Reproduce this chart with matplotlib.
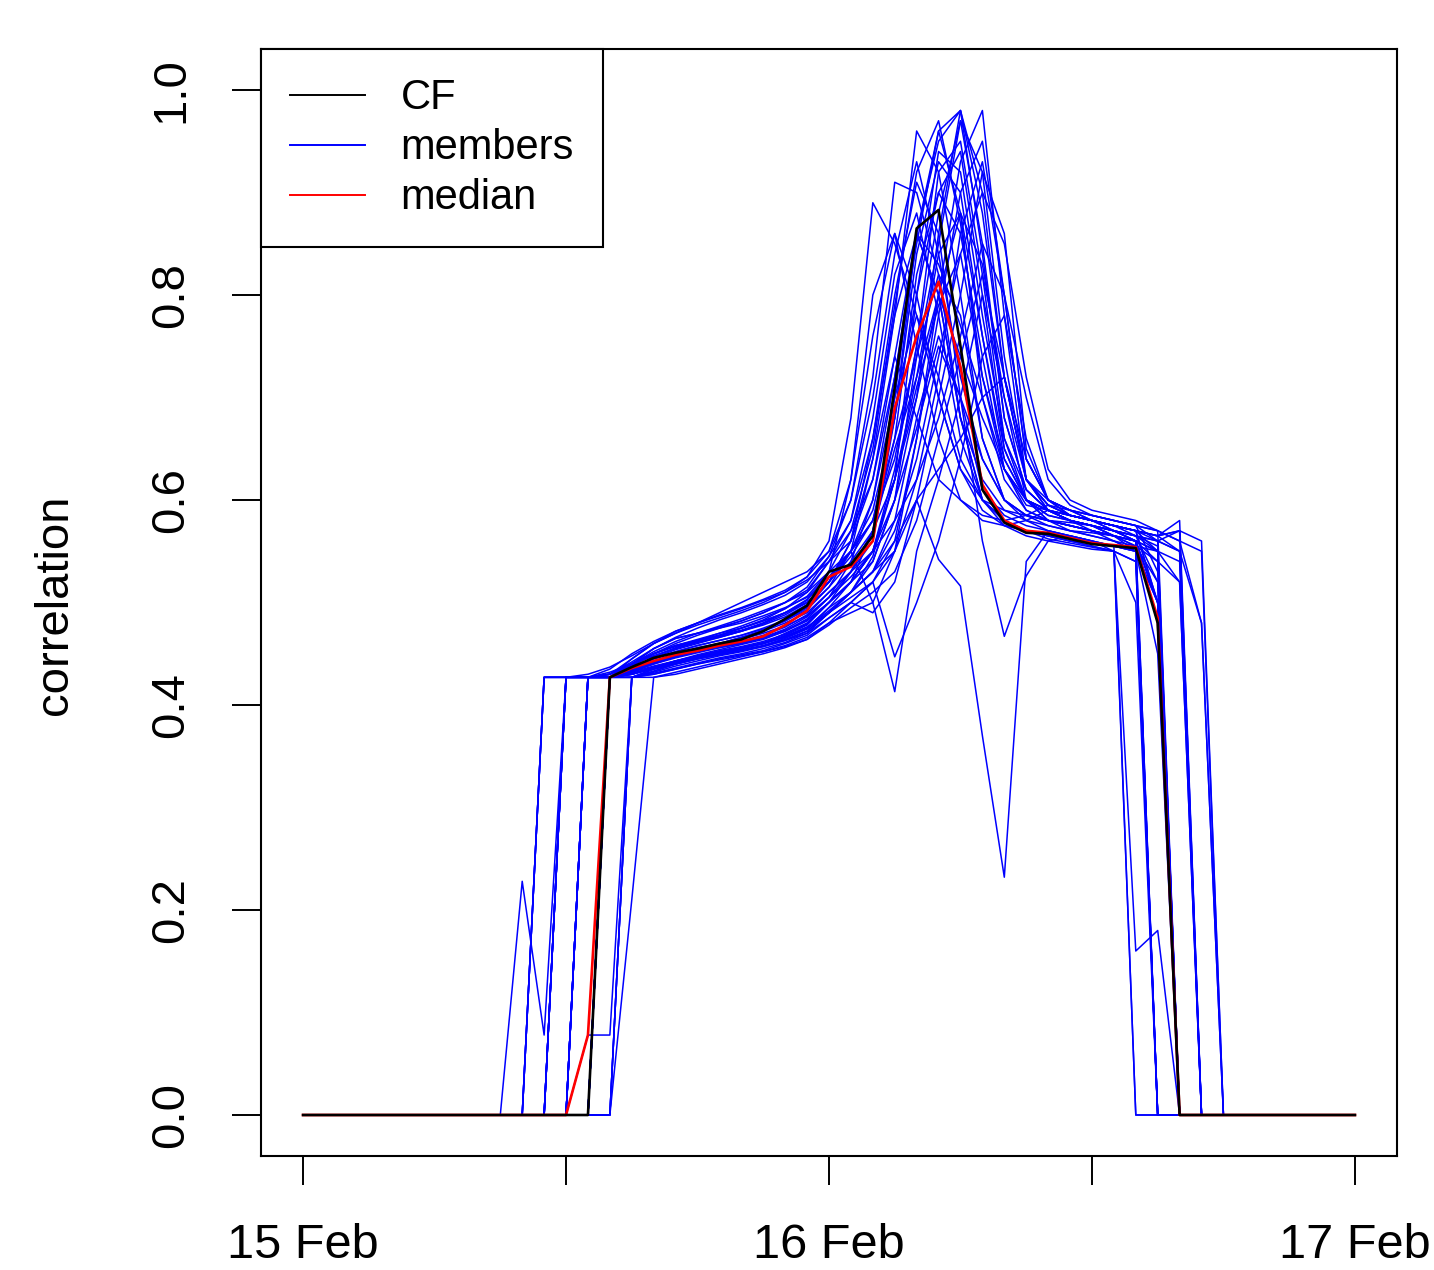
import matplotlib
matplotlib.use('Agg')
import matplotlib.pyplot as plt

plt.rcParams['font.family'] = ['Liberation Sans', 'DejaVu Sans']

# hours after 15 Feb 00:00, hourly steps
hours = list(range(49))
tick_hours = [0, 12, 24, 36, 48]
tick_labels = ['15 Feb', '', '16 Feb', '', '17 Feb']

# control forecast, non-zero part starts at hour 14
cf_start = 14
cf_values = [0.427, 0.437, 0.446, 0.451, 0.455, 0.460, 0.464, 0.472, 0.484, 0.497,
             0.530, 0.537, 0.565, 0.710, 0.865, 0.883, 0.750, 0.610, 0.578, 0.568,
             0.567, 0.562, 0.557, 0.555, 0.553, 0.480]

# ensemble median, non-zero part starts at hour 13
median_start = 13
median_values = [0.078, 0.427, 0.436, 0.443, 0.449, 0.453, 0.458, 0.462, 0.467, 0.478,
                 0.492, 0.525, 0.535, 0.560, 0.690, 0.760, 0.813, 0.730, 0.615, 0.580,
                 0.570, 0.568, 0.563, 0.558, 0.556, 0.554, 0.485]

# ensemble members: (first non-zero hour, values); zero outside
members = [
    (10, [0.228, 0.078, 0.427, 0.427, 0.43, 0.44, 0.45, 0.458, 0.463, 0.468, 0.475, 0.483, 0.494, 0.51, 0.54,
          0.56, 0.62, 0.74, 0.86, 0.80, 0.68, 0.60, 0.575, 0.565, 0.56, 0.556, 0.552, 0.55, 0.54]),
    (11, [0.427, 0.427, 0.427, 0.427, 0.438, 0.45, 0.46, 0.468, 0.475, 0.482, 0.49, 0.50, 0.515, 0.545, 0.58,
          0.66, 0.80, 0.91, 0.86, 0.70, 0.61, 0.585, 0.575, 0.57, 0.565, 0.56, 0.555, 0.55, 0.50]),
    (11, [0.427, 0.427, 0.427, 0.43, 0.445, 0.46, 0.47, 0.478, 0.485, 0.492, 0.50, 0.51, 0.525, 0.56, 0.68,
          0.89, 0.85, 0.78, 0.70, 0.63, 0.60, 0.59, 0.585, 0.58, 0.578, 0.575, 0.57, 0.56]),
    (11, [0.427, 0.427, 0.427, 0.427, 0.427, 0.433, 0.44, 0.445, 0.45, 0.455, 0.46, 0.468, 0.478, 0.50, 0.52,
          0.55, 0.63, 0.75, 0.92, 0.95, 0.82, 0.66, 0.60, 0.58, 0.575, 0.57, 0.565, 0.56, 0.55, 0.52]),
    (12, [0.427, 0.427, 0.427, 0.44, 0.455, 0.465, 0.47, 0.476, 0.482, 0.49, 0.50, 0.512, 0.54, 0.57, 0.62,
          0.72, 0.85, 0.96, 0.88, 0.70, 0.62, 0.59, 0.58, 0.575, 0.57, 0.565, 0.56, 0.50]),
    (12, [0.427, 0.427, 0.427, 0.43, 0.437, 0.442, 0.447, 0.451, 0.456, 0.46, 0.47, 0.48, 0.50, 0.52, 0.54,
          0.60, 0.70, 0.80, 0.93, 0.98, 0.78, 0.62, 0.59, 0.58, 0.575, 0.57, 0.565, 0.56, 0.55, 0.48]),
    (12, [0.427, 0.43, 0.437, 0.448, 0.46, 0.47, 0.48, 0.49, 0.50, 0.51, 0.52, 0.53, 0.55, 0.60, 0.72,
          0.91, 0.90, 0.82, 0.68, 0.60, 0.58, 0.57, 0.565, 0.56, 0.555, 0.55, 0.54]),
    (12, [0.427, 0.427, 0.427, 0.427, 0.435, 0.44, 0.445, 0.449, 0.453, 0.457, 0.463, 0.47, 0.49, 0.51, 0.53,
          0.55, 0.60, 0.70, 0.80, 0.92, 0.86, 0.65, 0.60, 0.59, 0.585, 0.58, 0.575, 0.57, 0.56, 0.55]),
    (13, [0.427, 0.427, 0.432, 0.44, 0.447, 0.452, 0.456, 0.46, 0.465, 0.472, 0.482, 0.50, 0.53, 0.57, 0.66,
          0.82, 0.90, 0.86, 0.74, 0.63, 0.59, 0.58, 0.575, 0.57, 0.565, 0.56, 0.50]),
    (13, [0.427, 0.427, 0.43, 0.436, 0.442, 0.447, 0.45, 0.455, 0.46, 0.466, 0.475, 0.495, 0.51, 0.53, 0.56,
          0.66, 0.78, 0.90, 0.95, 0.80, 0.64, 0.60, 0.585, 0.58, 0.575, 0.57, 0.565, 0.58]),
    (13, [0.427, 0.427, 0.44, 0.452, 0.462, 0.47, 0.477, 0.484, 0.492, 0.50, 0.51, 0.53, 0.55, 0.58, 0.64,
          0.75, 0.88, 0.97, 0.85, 0.68, 0.61, 0.59, 0.58, 0.575, 0.57, 0.565, 0.55]),
    (13, [0.427, 0.427, 0.427, 0.427, 0.432, 0.437, 0.442, 0.447, 0.452, 0.458, 0.466, 0.48, 0.49, 0.50, 0.413,
          0.55, 0.62, 0.70, 0.80, 0.70, 0.60, 0.58, 0.57, 0.565, 0.56, 0.555, 0.52]),
    (13, [0.427, 0.43, 0.44, 0.448, 0.455, 0.462, 0.468, 0.475, 0.482, 0.49, 0.50, 0.52, 0.56, 0.64, 0.78,
          0.96, 0.92, 0.80, 0.66, 0.60, 0.585, 0.58, 0.575, 0.57, 0.565, 0.56, 0.48]),
    (14, [0.427, 0.435, 0.443, 0.449, 0.453, 0.458, 0.462, 0.468, 0.476, 0.488, 0.51, 0.53, 0.56, 0.68, 0.84,
          0.93, 0.90, 0.76, 0.64, 0.60, 0.585, 0.58, 0.575, 0.57, 0.565, 0.555]),
    (14, [0.427, 0.432, 0.438, 0.443, 0.447, 0.451, 0.455, 0.46, 0.467, 0.476, 0.49, 0.51, 0.54, 0.60, 0.74,
          0.85, 0.97, 0.92, 0.74, 0.62, 0.595, 0.585, 0.58, 0.575, 0.57, 0.56, 0.55]),
    (14, [0.427, 0.44, 0.455, 0.465, 0.47, 0.475, 0.48, 0.487, 0.495, 0.505, 0.525, 0.55, 0.58, 0.66, 0.74,
          0.82, 0.78, 0.66, 0.60, 0.585, 0.58, 0.575, 0.57, 0.565, 0.56, 0.48]),
    (14, [0.427, 0.427, 0.43, 0.435, 0.44, 0.445, 0.449, 0.453, 0.46, 0.468, 0.485, 0.50, 0.49, 0.52, 0.60,
          0.542, 0.516, 0.37, 0.232, 0.54, 0.57, 0.565, 0.56, 0.555, 0.55, 0.50]),
    (14, [0.427, 0.433, 0.44, 0.446, 0.451, 0.456, 0.46, 0.466, 0.474, 0.486, 0.505, 0.525, 0.55, 0.62, 0.71,
          0.79, 0.84, 0.72, 0.64, 0.60, 0.59, 0.585, 0.58, 0.575, 0.57, 0.55]),
    (14, [0.427, 0.445, 0.46, 0.472, 0.48, 0.488, 0.495, 0.503, 0.512, 0.525, 0.55, 0.62, 0.76, 0.86, 0.80,
          0.70, 0.63, 0.59, 0.575, 0.57, 0.565, 0.56, 0.558, 0.555, 0.55]),
    (14, [0.427, 0.43, 0.436, 0.441, 0.446, 0.45, 0.454, 0.458, 0.464, 0.472, 0.49, 0.505, 0.52, 0.447, 0.50,
          0.56, 0.64, 0.74, 0.78, 0.66, 0.60, 0.585, 0.58, 0.575, 0.57, 0.565, 0.55]),
    (15, [0.427, 0.435, 0.443, 0.449, 0.454, 0.459, 0.464, 0.472, 0.484, 0.505, 0.54, 0.60, 0.72, 0.86, 0.95,
          0.98, 0.84, 0.68, 0.61, 0.59, 0.585, 0.58, 0.575, 0.565, 0.52]),
    (15, [0.427, 0.43, 0.435, 0.44, 0.444, 0.448, 0.452, 0.457, 0.464, 0.478, 0.495, 0.51, 0.53, 0.58, 0.66,
          0.74, 0.82, 0.72, 0.62, 0.59, 0.58, 0.575, 0.57, 0.565, 0.56]),
    (13, [0.078, 0.078, 0.427, 0.432, 0.438, 0.443, 0.448, 0.452, 0.457, 0.463, 0.472, 0.49, 0.51, 0.53, 0.58,
          0.68, 0.76, 0.70, 0.56, 0.467, 0.526, 0.56, 0.565, 0.56, 0.55, 0.16, 0.18]),
    (15, [0.21, 0.427, 0.43, 0.435, 0.44, 0.445, 0.45, 0.456, 0.464, 0.48, 0.50, 0.52, 0.55, 0.62, 0.72,
          0.86, 0.93, 0.80, 0.64, 0.60, 0.59, 0.585, 0.58, 0.575, 0.57, 0.56, 0.48]),
    (11, [0.427, 0.427, 0.427, 0.435, 0.45, 0.462, 0.472, 0.48, 0.487, 0.494, 0.502, 0.51, 0.522, 0.54, 0.58,
          0.68, 0.82, 0.88, 0.78, 0.66, 0.60, 0.58, 0.57, 0.562, 0.558, 0.554, 0.55, 0.50]),
    (12, [0.427, 0.427, 0.427, 0.436, 0.446, 0.454, 0.46, 0.466, 0.472, 0.48, 0.49, 0.503, 0.525, 0.55, 0.59,
          0.68, 0.80, 0.90, 0.94, 0.80, 0.65, 0.60, 0.59, 0.585, 0.58, 0.575, 0.57, 0.565, 0.57]),
    (13, [0.427, 0.427, 0.437, 0.445, 0.452, 0.458, 0.463, 0.468, 0.475, 0.483, 0.495, 0.515, 0.54, 0.57, 0.62,
          0.70, 0.86, 0.98, 0.90, 0.72, 0.62, 0.595, 0.585, 0.58, 0.575, 0.57, 0.50]),
    (14, [0.427, 0.438, 0.45, 0.458, 0.463, 0.468, 0.473, 0.48, 0.49, 0.502, 0.53, 0.57, 0.65, 0.79, 0.92,
          0.97, 0.87, 0.72, 0.63, 0.60, 0.59, 0.58, 0.575, 0.57, 0.56, 0.54]),
    (15, [0.427, 0.433, 0.44, 0.446, 0.452, 0.456, 0.46, 0.466, 0.475, 0.495, 0.52, 0.55, 0.62, 0.72, 0.84,
          0.88, 0.76, 0.65, 0.60, 0.585, 0.58, 0.575, 0.565, 0.555, 0.55, 0.54]),
    (12, [0.427, 0.427, 0.43, 0.44, 0.45, 0.458, 0.464, 0.47, 0.475, 0.482, 0.49, 0.50, 0.52, 0.55, 0.60,
          0.70, 0.78, 0.72, 0.64, 0.60, 0.58, 0.57, 0.565, 0.56, 0.555, 0.55]),
    (13, [0.427, 0.427, 0.435, 0.442, 0.45, 0.456, 0.46, 0.466, 0.472, 0.48, 0.49, 0.51, 0.53, 0.55, 0.60,
          0.67, 0.75, 0.70, 0.64, 0.60, 0.58, 0.57, 0.565, 0.56, 0.555]),
    (14, [0.427, 0.43, 0.435, 0.44, 0.445, 0.449, 0.453, 0.458, 0.465, 0.474, 0.49, 0.51, 0.545, 0.62, 0.80,
          0.94, 0.92, 0.78, 0.66, 0.61, 0.59, 0.58, 0.57, 0.56, 0.55, 0.45]),
    (14, [0.427, 0.44, 0.45, 0.457, 0.462, 0.467, 0.472, 0.478, 0.486, 0.498, 0.52, 0.545, 0.58, 0.68, 0.86,
          0.96, 0.98, 0.88, 0.72, 0.62, 0.595, 0.585, 0.58, 0.575, 0.57, 0.565, 0.57, 0.56]),
    (13, [0.427, 0.427, 0.436, 0.447, 0.456, 0.463, 0.47, 0.477, 0.485, 0.494, 0.506, 0.53, 0.62, 0.80, 0.86,
          0.75, 0.66, 0.60, 0.58, 0.575, 0.58, 0.59, 0.585, 0.58, 0.575, 0.57, 0.50]),
    (14, [0.427, 0.436, 0.445, 0.452, 0.458, 0.463, 0.468, 0.474, 0.482, 0.493, 0.515, 0.55, 0.64, 0.74, 0.68,
          0.62, 0.60, 0.585, 0.58, 0.585, 0.595, 0.59, 0.58, 0.57, 0.56]),
    (12, [0.427, 0.427, 0.427, 0.434, 0.442, 0.449, 0.455, 0.46, 0.466, 0.473, 0.482, 0.495, 0.52, 0.56, 0.66,
          0.78, 0.86, 0.83, 0.77, 0.70, 0.63, 0.595, 0.59, 0.58, 0.575, 0.565, 0.555, 0.54, 0.52]),
    (14, [0.427, 0.43, 0.437, 0.443, 0.448, 0.453, 0.457, 0.462, 0.469, 0.479, 0.50, 0.52, 0.55, 0.58, 0.62,
          0.68, 0.76, 0.85, 0.80, 0.70, 0.62, 0.595, 0.585, 0.58, 0.575, 0.53]),
    (13, [0.427, 0.432, 0.44, 0.448, 0.455, 0.461, 0.466, 0.472, 0.479, 0.488, 0.50, 0.52, 0.55, 0.50, 0.55,
          0.66, 0.80, 0.88, 0.83, 0.70, 0.62, 0.60, 0.59, 0.58, 0.57, 0.56, 0.50]),
    (11, [0.427, 0.427, 0.427, 0.427, 0.433, 0.441, 0.448, 0.454, 0.459, 0.464, 0.47, 0.477, 0.487, 0.505, 0.53,
          0.57, 0.65, 0.72, 0.80, 0.74, 0.68, 0.63, 0.60, 0.59, 0.58, 0.575, 0.565, 0.55]),
    (15, [0.427, 0.431, 0.436, 0.441, 0.446, 0.45, 0.455, 0.461, 0.47, 0.485, 0.50, 0.52, 0.56, 0.60, 0.63,
          0.66, 0.70, 0.72, 0.64, 0.60, 0.59, 0.585, 0.58, 0.575, 0.56, 0.57]),
    (12, [0.427, 0.427, 0.43, 0.442, 0.455, 0.466, 0.475, 0.483, 0.49, 0.498, 0.507, 0.52, 0.545, 0.60, 0.70,
          0.84, 0.93, 0.84, 0.72, 0.64, 0.60, 0.585, 0.575, 0.57, 0.565, 0.56, 0.55]),
    (14, [0.427, 0.434, 0.441, 0.447, 0.452, 0.457, 0.461, 0.466, 0.473, 0.483, 0.50, 0.52, 0.57, 0.70, 0.86,
          0.80, 0.68, 0.62, 0.59, 0.58, 0.575, 0.57, 0.568, 0.565, 0.56, 0.55]),
    (13, [0.427, 0.427, 0.431, 0.437, 0.443, 0.448, 0.452, 0.456, 0.461, 0.467, 0.476, 0.492, 0.51, 0.53, 0.57,
          0.64, 0.74, 0.84, 0.90, 0.85, 0.72, 0.63, 0.60, 0.59, 0.585, 0.58, 0.57]),
]


def full_series(start, values):
    '''Pads a non-zero segment with zeros over all hours.'''
    series = [0.0] * len(hours)
    for i, v in enumerate(values):
        series[start + i] = v
    return series


fig = plt.figure(figsize=(14.34, 12.70), dpi=100)
ax = fig.add_axes([261 / 1434, 1 - 1156 / 1270, (1397 - 261) / 1434, (1156 - 49) / 1270])

for start, values in members:
    ax.plot(hours, full_series(start, values), color='#0000ff', lw=1.1)
ax.plot(hours, full_series(median_start, median_values), color='#ff0000', lw=1.9)
ax.plot(hours, full_series(cf_start, cf_values), color='black', lw=1.9)

ax.set_xlim(-1.92, 49.92)
ax.set_ylim(-0.04, 1.04)
ax.set_xticks(tick_hours)
ax.set_xticklabels(tick_labels)
ax.set_yticks([0.0, 0.2, 0.4, 0.6, 0.8, 1.0])
ax.set_yticklabels(['0.0', '0.2', '0.4', '0.6', '0.8', '1.0'], rotation=90, va='center')
ax.tick_params(axis='both', length=21, width=1.4)
ax.tick_params(axis='x', labelsize=35, pad=27)
ax.tick_params(axis='y', labelsize=34, pad=28)
for spine in ax.spines.values():
    spine.set_linewidth(1.5)

fig.text(55 / 1434, 1 - 605 / 1270, 'correlation', rotation=90, fontsize=34,
         ha='center', va='center')

handles = [plt.Line2D([], [], color='black', lw=1.4),
           plt.Line2D([], [], color='#0000ff', lw=1.4),
           plt.Line2D([], [], color='#ff0000', lw=1.4)]
leg = ax.legend(handles, ['CF', 'members', 'median'], loc='upper left', fontsize=30,
                borderaxespad=0, fancybox=False, framealpha=1, edgecolor='black',
                handlelength=1.8, handletextpad=0.85, borderpad=0.7, labelspacing=0.24)
leg.get_frame().set_linewidth(1.5)

fig.savefig('out.png', dpi=100)
